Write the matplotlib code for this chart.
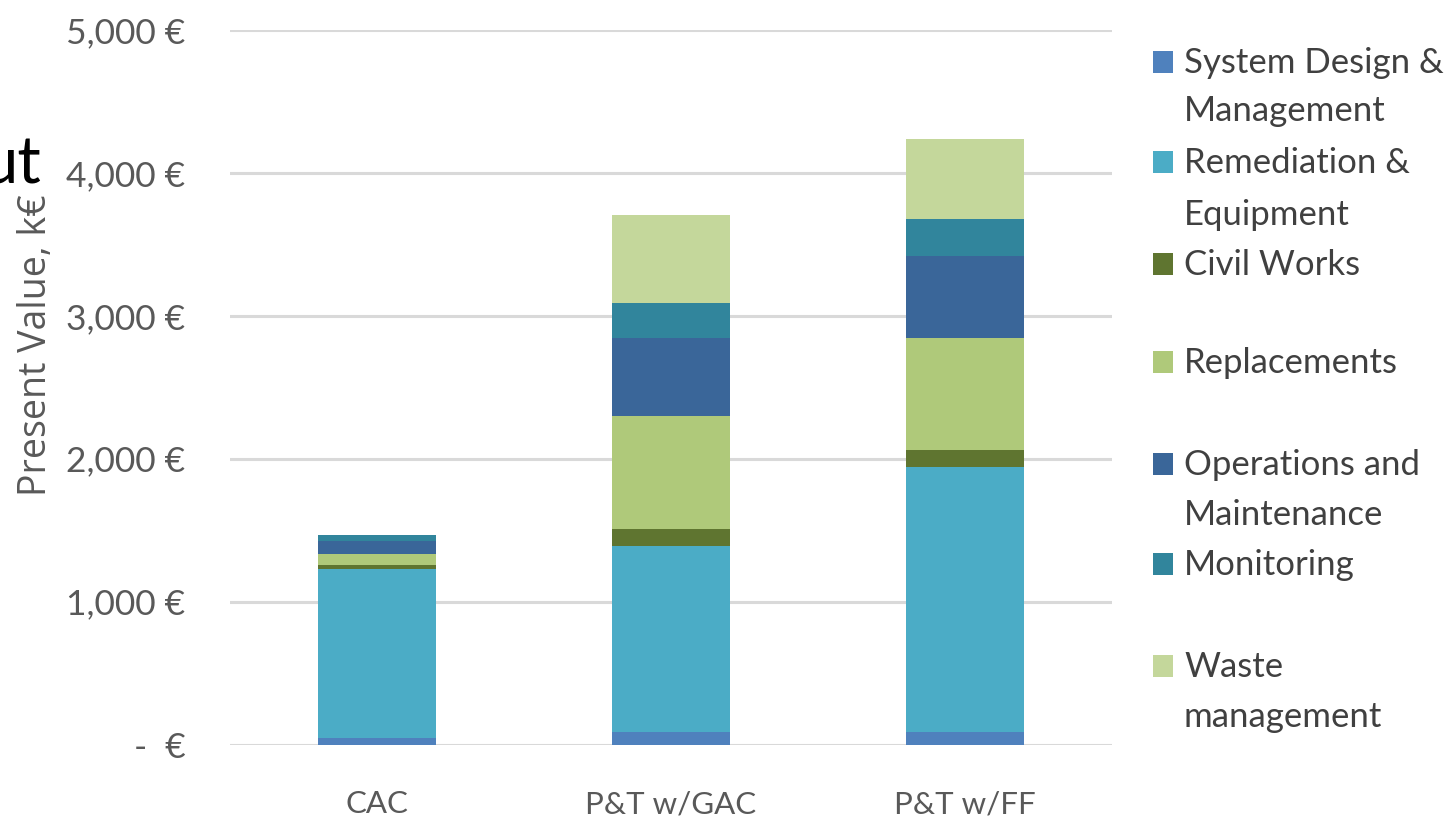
import matplotlib
matplotlib.use("Agg")
import matplotlib.pyplot as plt
from matplotlib.patches import Rectangle
import numpy as np

categories = ["CAC", "P&T w/GAC", "P&T w/FF"]
series_names = ["System Design &\nManagement", "Remediation &\nEquipment", "Civil Works",
                "Replacements", "Operations and\nMaintenance", "Monitoring", "Waste\nmanagement"]
system_design = [48, 87, 84]
remediation = [1179, 1300, 1856]
civil_works = [28, 119, 120]
replacements = [77, 796, 788]
operations = [91, 546, 573]
monitoring = [46, 239, 259]
waste = [0, 621, 559]
yticks = [0, 1000, 2000, 3000, 4000, 5000]
ytick_labels = ["-  €", "1,000 €", "2,000 €", "3,000 €", "4,000 €", "5,000 €"]

colors = ["#4F81BD", "#4BACC6", "#5F7530", "#AFC97A", "#3A6699", "#31859C", "#C4D79B"]
series = [system_design, remediation, civil_works, replacements, operations, monitoring, waste]

plt.rcParams['font.family'] = ['Lato', 'DejaVu Sans']

W, H = 1452, 818
fig = plt.figure(figsize=(W / 100, H / 100), dpi=100)
ax = fig.add_axes([230 / W, 1 - 744.5 / H, 882 / W, 714.5 / H])

x = np.arange(len(categories))
bottom = np.zeros(len(categories))
for vals, c in zip(series, colors):
    ax.bar(x, vals, width=0.4, bottom=bottom, color=c, zorder=3)
    bottom += np.array(vals)

ax.set_xlim(-0.5, 2.5)
ax.set_ylim(0, 5000)
ax.set_yticks(yticks)
ax.set_yticklabels(ytick_labels)
ax.set_xticks(x)
ax.set_xticklabels(categories)
for s in ax.spines.values():
    s.set_visible(False)
ax.yaxis.grid(True, color="#D9D9D9", linewidth=2.2, zorder=0)
ax.tick_params(axis="both", length=0, colors="#595959")
ax.tick_params(axis="y", pad=32, labelsize=25.5)
ax.tick_params(axis="x", pad=33, labelsize=22.5)

fig.text(46 / W, 1 - 345 / H, "Present Value, k€", fontsize=27, color="#595959",
         rotation=90, rotation_mode="anchor", ha="center", va="baseline",
         family=["Open Sans", "DejaVu Sans"])

# legend drawn manually: (square top, [baselines of lines])
leg_layout = [(51, [73, 121]), (151, [173, 225]), (253, [275]), (351, [373]),
              (453, [475, 525]), (553, [575]), (655, [677, 727])]
for name, c, (sq_top, bases) in zip(series_names, colors, leg_layout):
    fig.patches.append(Rectangle((1153 / W, 1 - (sq_top + 22) / H), 20 / W, 22 / H,
                                 transform=fig.transFigure, facecolor=c, edgecolor="none"))
    for line, b in zip(name.split("\n"), bases):
        fig.text(1184 / W, 1 - b / H, line, fontsize=25, color="#404040",
                 va="baseline", ha="left")

fig.text(42 / W, 1 - 183 / H, "ut", fontsize=47, color="black", va="baseline", ha="right")

fig.savefig("out.png", dpi=100)
